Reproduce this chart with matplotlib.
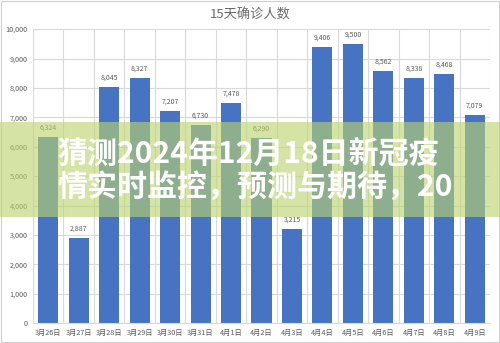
import matplotlib.pyplot as plt
from matplotlib.patches import Rectangle
from matplotlib.ticker import FuncFormatter

plt.rcParams['font.family'] = ['Noto Sans CJK SC', 'DejaVu Sans']

# 15-day confirmed cases
dates = ['3月26日', '3月27日', '3月28日', '3月29日', '3月30日', '3月31日', '4月1日',
         '4月2日', '4月3日', '4月4日', '4月5日', '4月6日', '4月7日', '4月8日', '4月9日']
cases = [6324, 2887, 8045, 8327, 7207, 6730, 7478,
         6290, 3215, 9406, 9500, 8562, 8338, 8468, 7079]

title = '15天确诊人数'
headline = ['猜测2024年12月18日新冠疫', '情实时监控，预测与期待，20']

grey = '#595959'
grid = '#d9d9d9'
blue = '#4674c2'

fig = plt.figure(figsize=(5.0, 3.43), dpi=100)
ax = fig.add_axes([0.066, 0.058, 0.914, 0.857])

x = range(len(dates))
bars = ax.bar(x, cases, width=0.66, color=blue, zorder=2)
for b, v in zip(bars, cases):
    ax.text(b.get_x() + b.get_width() / 2, v + 180, f'{v:,}',
            ha='center', va='bottom', fontsize=5, color=grey)

ax.set_xlim(-0.5, len(dates) - 0.5)
ax.set_ylim(0, 10000)
ax.set_yticks(range(0, 10001, 1000))
ax.yaxis.set_major_formatter(FuncFormatter(lambda v, p: f'{int(v):,}'))
ax.set_xticks(list(x))
ax.set_xticklabels(dates)
ax.set_xticks([i + 0.5 for i in range(-1, len(dates))], minor=True)
ax.tick_params(axis='both', which='both', length=0, labelsize=5.2, colors=grey, pad=4)
ax.grid(axis='y', which='major', color=grid, lw=0.8, zorder=0)
ax.grid(axis='x', which='minor', color=grid, lw=0.8, zorder=0)
for s in ['top', 'right', 'left']:
    ax.spines[s].set_visible(False)
ax.spines['bottom'].set_color(grid)

fig.text(0.5, 0.955, title, ha='center', va='center', fontsize=9.5, color='#6a6a6a')

# outer frame
fig.patches.append(Rectangle((0.002, 0.003), 0.996, 0.994, transform=fig.transFigure,
                             fill=False, ec='#d0d0d0', lw=0.8))

# translucent banner with headline
fig.patches.append(Rectangle((0, 0.367), 1, 0.277, transform=fig.transFigure,
                             fc=(188 / 255, 212 / 255, 110 / 255), alpha=0.62,
                             ec='none', zorder=5))
fig.text(0.114, 0.551, headline[0], ha='left', va='center', fontsize=21.6,
         fontweight='bold', color='white', zorder=6)
fig.text(0.114, 0.455, headline[1], ha='left', va='center', fontsize=21.6,
         fontweight='bold', color='white', zorder=6)

fig.savefig('out.png', dpi=100)
